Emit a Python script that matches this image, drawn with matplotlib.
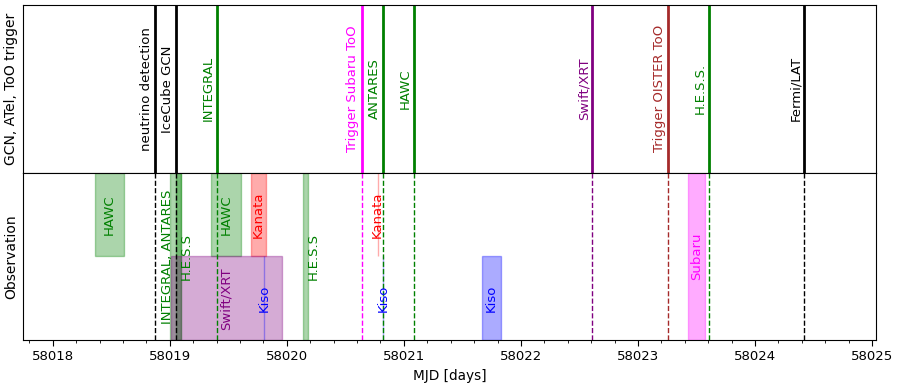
import matplotlib
matplotlib.use("Agg")
import matplotlib.pyplot as plt
import matplotlib.transforms as mtransforms
from matplotlib.ticker import MultipleLocator

# ---- data ----
event_names = ['neutrino detection', 'IceCube GCN', 'INTEGRAL', 'Trigger Subaru ToO',
               'ANTARES', 'HAWC', 'Swift/XRT', 'Trigger OISTER ToO', 'H.E.S.S.', 'Fermi/LAT']
event_mjd = [58018.871, 58019.051, 58019.400, 58020.638, 58020.818,
             58021.085, 58022.610, 58023.259, 58023.607, 58024.421]
event_colors = ['black', 'black', 'green', 'magenta', 'green',
                'green', 'purple', 'brown', 'green', 'black']

obs_names = ['HAWC', 'INTEGRAL, ANTARES', 'H.E.S.S', 'HAWC', 'Kanata', 'H.E.S.S',
             'Kanata', 'Subaru', 'Swift/XRT', 'Kiso', 'Kiso', 'Kiso']
obs_start = [58018.36, 58019.006, 58019.050, 58019.35, 58019.69, 58020.134,
             58020.775, 58023.430, 58019.009, 58019.809, 58020.820, 58021.667]
obs_end = [58018.61, 58019.100, 58019.100, 58019.61, 58019.82, 58020.182,
           58020.775, 58023.575, 58019.955, 58019.809, 58020.820, 58021.829]
obs_row = ['upper', 'full', 'full', 'upper', 'upper', 'full',
           'upper', 'full', 'lower', 'lower', 'lower', 'lower']
obs_colors = ['green', 'green', 'green', 'green', 'red', 'green',
              'red', 'magenta', 'purple', 'blue', 'blue', 'blue']

x_limits = (58017.75, 58025.03)

# ---- figure ----
FS = 9.5
plt.rcParams['font.size'] = FS
fig = plt.figure(figsize=(8.99, 3.87), dpi=100)
left, right = 0.0261, 0.974
ax_top = fig.add_axes([left, 0.5537, right - left, 0.987 - 0.5537])
ax_bot = fig.add_axes([left, 0.1214, right - left, 0.5537 - 0.1214], sharex=ax_top)

# top panel: trigger lines
for name, x, c in zip(event_names, event_mjd, event_colors):
    ax_top.axvline(x, color=c, lw=2)
    off = mtransforms.offset_copy(ax_top.get_xaxis_transform(), fig=fig, x=-1.5, y=0, units='points')
    ax_top.text(x, 0.5, name, rotation=90, ha='right', va='center', color=c,
                fontsize=FS, transform=off)
ax_top.set_yticks([])
ax_top.tick_params(axis='x', which='both', bottom=False, labelbottom=False)
ax_top.set_ylabel('GCN, ATel, ToO trigger', fontsize=10)

# bottom panel: observation windows
row_span = {'upper': (0.5, 1.0), 'lower': (0.0, 0.5), 'full': (0.0, 1.0)}
label_side = {'INTEGRAL, ANTARES': 'left', 'H.E.S.S': 'right'}
for name, s, e, r, c in zip(obs_names, obs_start, obs_end, obs_row, obs_colors):
    y0, y1 = row_span[r]
    ax_bot.axvspan(s, e, ymin=y0, ymax=y1, color=c, alpha=0.33)
    yc = (y0 + y1) / 2
    side = label_side.get(name, 'center')
    if side == 'left':
        tr = mtransforms.offset_copy(ax_bot.get_xaxis_transform(), fig=fig, x=2.5, y=0, units='points')
        ax_bot.text(s, yc, name, rotation=90, ha='right', va='center', color=c, fontsize=FS, transform=tr)
    elif side == 'right':
        tr = mtransforms.offset_copy(ax_bot.get_xaxis_transform(), fig=fig, x=-1.0, y=0, units='points')
        ax_bot.text(e, yc, name, rotation=90, ha='left', va='center', color=c, fontsize=FS, transform=tr)
    else:
        ax_bot.text((s + e) / 2, yc, name, rotation=90, ha='center', va='center', color=c,
                    fontsize=FS, transform=ax_bot.get_xaxis_transform())

for x, c in zip(event_mjd, event_colors):
    ax_bot.axvline(x, color=c, lw=1, ls='--')

ax_bot.set_yticks([])
ax_bot.set_ylabel('Observation', fontsize=10)
ax_bot.set_xlim(*x_limits)
ax_bot.xaxis.set_major_locator(MultipleLocator(1))
ax_bot.xaxis.set_minor_locator(MultipleLocator(0.2))
ax_bot.ticklabel_format(axis='x', useOffset=False, style='plain')
ax_bot.tick_params(axis='x', which='major', direction='out', length=4, labelsize=FS)
ax_bot.tick_params(axis='x', which='minor', direction='out', length=2)
ax_bot.set_xlabel('MJD [days]', fontsize=9.8)

fig.savefig('out.png', dpi=100)
